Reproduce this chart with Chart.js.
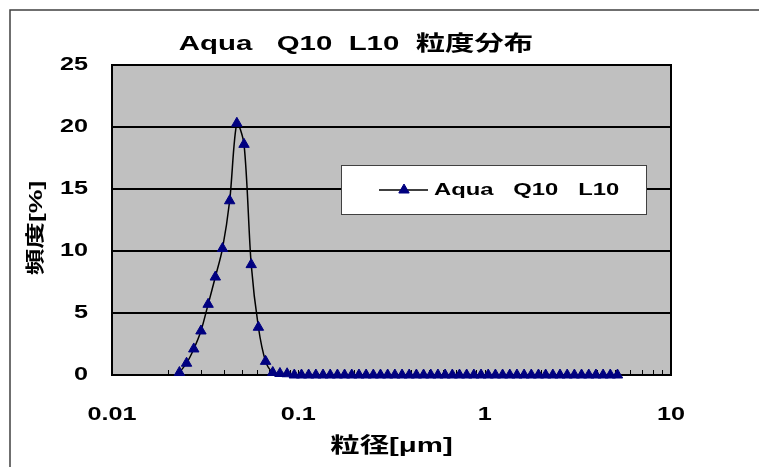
<!DOCTYPE html>
<html>
<head>
<meta charset="utf-8">
<title>Aqua Q10 L10 粒度分布</title>
<script src="https://cdn.jsdelivr.net/npm/chart.js@4/dist/chart.umd.min.js"></script>
<style>
  html, body { margin: 0; padding: 0; background: #fff; }
</style>
</head>
<body>
<canvas id="psdChart" width="759" height="467"></canvas>
<script>
// particle size per channel [um]
const sizes = [
  0.02300, 0.02513, 0.02747, 0.03002, 0.03280, 0.03585, 0.03917, 0.04281, 0.04678, 0.05112,
  0.05587, 0.06105, 0.06672, 0.07291, 0.07968, 0.08707, 0.09515, 0.1040, 0.1136, 0.1242,
  0.1357, 0.1483, 0.1621, 0.1771, 0.1935, 0.2115, 0.2311, 0.2526, 0.2760, 0.3016,
  0.3296, 0.3602, 0.3936, 0.4301, 0.4701, 0.5137, 0.5613, 0.6134, 0.6704, 0.7326,
  0.8006, 0.8749, 0.9561, 1.045, 1.142, 1.248, 1.364, 1.490, 1.628, 1.779,
  1.944, 2.125, 2.322, 2.537, 2.773, 3.030, 3.311, 3.619, 3.955, 4.322,
  4.723, 5.161
];
// frequency [%]
const freq = [
  0.2, 0.95, 2.1, 3.55, 5.7, 7.9, 10.2, 14.05, 20.3, 18.6,
  8.9, 3.85, 1.1, 0.2, 0.12, 0.1, 0, 0, 0, 0,
  0, 0, 0, 0, 0, 0, 0, 0, 0, 0,
  0, 0, 0, 0, 0, 0, 0, 0, 0, 0,
  0, 0, 0, 0, 0, 0, 0, 0, 0, 0,
  0, 0, 0, 0, 0, 0, 0, 0, 0, 0,
  0, 0
];
const xTickLabels = [0.01, 0.1, 1, 10];
const yTickLabels = [0, 5, 10, 15, 20, 25];

const seriesName = 'Aqua   Q10   L10';
const chartTitle = 'Aqua   Q10  L10  粒度分布';
const xTitle = '粒径[μm]';
const yTitle = '頻度[%]';

const FONT = "'Liberation Sans', Arial, 'Noto Sans CJK JP', sans-serif";
const STRETCH = 1.4; // the original lettering is wide
const MARK = '#000080';

Chart.defaults.font.family = FONT;
Chart.defaults.font.weight = 'bold';
Chart.defaults.color = '#000';

// widen every piece of text drawn on the canvas
const wideText = {
  id: 'wideText',
  beforeInit(chart) {
    const ctx = chart.ctx;
    const fill = ctx.fillText;
    ctx.fillText = function (text, x, y) {
      this.save();
      this.translate(x, y);
      this.scale(STRETCH, 1);
      fill.call(this, text, 0, 0);
      this.restore();
    };
  }
};

// page frame, grey plot area, plot border, inside tick marks
const frame = {
  id: 'frame',
  beforeDraw(chart) {
    const { ctx, chartArea: a } = chart;
    ctx.save();
    ctx.fillStyle = '#fff';
    ctx.fillRect(0, 0, chart.width, chart.height);
    ctx.strokeStyle = '#404040';
    ctx.lineWidth = 1.5;
    ctx.strokeRect(10, 10, chart.width, chart.height);
    ctx.fillStyle = '#c0c0c0';
    ctx.fillRect(a.left, a.top, a.width, a.height);
    ctx.restore();
  },
  beforeDatasetsDraw(chart) {
    const { ctx, chartArea: a } = chart;
    const xs = chart.scales.x;
    ctx.save();
    ctx.strokeStyle = '#000';
    ctx.lineWidth = 1;
    ctx.beginPath();
    xs.ticks.forEach(t => {
      const px = Math.round(xs.getPixelForValue(t.value)) + 0.5;
      ctx.moveTo(px, a.bottom);
      ctx.lineTo(px, a.bottom - 5);
    });
    ctx.stroke();
    ctx.lineWidth = 2;
    ctx.strokeRect(a.left, a.top, a.width, a.height);
    ctx.restore();
  }
};

// title, y axis title and legend box
const labels = {
  id: 'labels',
  afterDraw(chart) {
    const ctx = chart.ctx;
    ctx.save();
    ctx.fillStyle = '#000';
    ctx.textBaseline = 'middle';
    ctx.textAlign = 'center';
    ctx.font = 'bold 21px ' + FONT;
    ctx.fillText(chartTitle, 356, 44);

    ctx.save();
    ctx.translate(37, 228);
    ctx.rotate(-Math.PI / 2);
    ctx.font = 'bold 19px ' + FONT;
    ctx.fillText(yTitle, 0, 0);
    ctx.restore();

    ctx.fillStyle = '#fff';
    ctx.fillRect(341.5, 165.5, 305, 49);
    ctx.strokeStyle = '#404040';
    ctx.lineWidth = 1;
    ctx.strokeRect(341.5, 165.5, 305, 49);

    ctx.strokeStyle = '#000';
    ctx.lineWidth = 1.5;
    ctx.beginPath();
    ctx.moveTo(379, 190);
    ctx.lineTo(428, 190);
    ctx.stroke();
    ctx.fillStyle = MARK;
    ctx.strokeStyle = MARK;
    ctx.lineWidth = 1;
    Chart.helpers.drawPoint(ctx, { pointStyle: 'triangle', radius: 6, rotation: 0, borderWidth: 1 }, 404, 190);

    ctx.fillStyle = '#000';
    ctx.textAlign = 'left';
    ctx.font = 'bold 17px ' + FONT;
    ctx.fillText(seriesName, 434, 190);
    ctx.restore();
  }
};

new Chart(document.getElementById('psdChart'), {
  type: 'line',
  data: {
    datasets: [{
      label: seriesName,
      data: sizes.map((s, i) => ({ x: s, y: freq[i] })),
      borderColor: '#000',
      borderWidth: 1.5,
      tension: 0.3,
      pointStyle: 'triangle',
      pointRadius: 6,
      pointBackgroundColor: MARK,
      pointBorderColor: MARK,
      pointBorderWidth: 1,
      clip: false
    }]
  },
  options: {
    responsive: false,
    animation: false,
    events: [],
    layout: { padding: { top: 65, right: 88, bottom: 0, left: 0 } },
    plugins: {
      legend: { display: false },
      title: { display: false },
      tooltip: { enabled: false }
    },
    scales: {
      x: {
        type: 'logarithmic',
        position: 'bottom',
        min: 0.01,
        max: 10,
        afterBuildTicks: scale => {
          const t = [];
          for (let e = -2; e < 1; e++) {
            for (let m = 1; m < 10; m++) t.push({ value: Number((m * Math.pow(10, e)).toPrecision(3)) });
          }
          t.push({ value: 10 });
          scale.ticks = t;
        },
        afterFit: scale => { scale.height = 92; },
        grid: { display: false },
        border: { display: false },
        ticks: {
          autoSkip: false,
          maxRotation: 0,
          padding: 21,
          font: { size: 18, weight: 'bold' },
          callback: v => xTickLabels.includes(v) ? String(v) : ''
        },
        title: {
          display: true,
          text: xTitle,
          font: { size: 21, weight: 'bold' },
          padding: { top: 0, bottom: 8 }
        }
      },
      y: {
        min: 0,
        max: 25,
        afterBuildTicks: scale => { scale.ticks = yTickLabels.map(v => ({ value: v })); },
        afterFit: scale => { scale.width = 112; },
        grid: { color: '#000', lineWidth: 2, drawTicks: false },
        border: { display: false },
        ticks: { padding: 24, font: { size: 18, weight: 'bold' } },
        title: { display: false, text: yTitle }
      }
    }
  },
  plugins: [wideText, frame, labels]
});
</script>
</body>
</html>
